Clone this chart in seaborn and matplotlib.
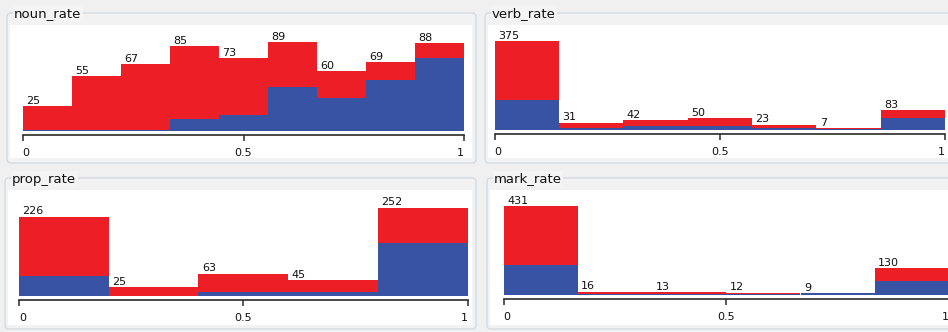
import numpy as np
import pandas as pd
import matplotlib
matplotlib.use("Agg")
import matplotlib.pyplot as plt
import seaborn as sns
from matplotlib.patches import FancyBboxPatch, Rectangle
from matplotlib.transforms import IdentityTransform

# Bin totals (the printed values) and the blue-class part of each bin
noun_total = [25, 55, 67, 85, 73, 89, 60, 69, 88]
noun_blue = [1, 1, 1, 12, 16, 44, 33, 51, 73]
verb_total = [375, 31, 42, 50, 23, 7, 83]
verb_blue = [127, 10, 15, 15, 9, 3, 51]
prop_total = [226, 25, 63, 45, 252]
prop_blue = [57, 1, 10, 10, 152]
mark_total = [431, 16, 13, 12, 9, 130]
mark_blue = [148, 4, 3, 3, 9, 66]

titles = ["noun_rate", "verb_rate", "prop_rate", "mark_rate"]
tick_values = [0, 0.5, 1]
tick_labels = ["0", "0.5", "1"]

RED = "#ed1f26"
BLUE = "#3953a4"
W, H = 948, 332

sns.set_style("white")
plt.rcParams["font.family"] = ["DejaVu Sans"]

fig = plt.figure(figsize=(W / 100, H / 100), dpi=100)
fig.patch.set_facecolor("#f0f0f0")

# pixel geometry of each panel: group box, white area, axis span and baseline
panels = [
    dict(box=(7, 13, 476, 163), white=(10, 25, 472, 158), x0=22.7, x1=464.3, base=131),
    dict(box=(485, 13, 970, 163), white=(488, 25, 970, 158), x0=494.5, x1=945, base=130),
    dict(box=(5, 178, 476, 329), white=(8, 190, 472, 325), x0=19, x1=467.5, base=296),
    dict(box=(487, 178, 970, 329), white=(490, 190, 970, 325), x0=503.5, x1=949, base=295),
]
series = [
    (noun_total, noun_blue),
    (verb_total, verb_blue),
    (prop_total, prop_blue),
    (mark_total, mark_blue),
]

ident = IdentityTransform()


def px_rect(x0, y0, x1, y1):
    return x0, H - y1, x1 - x0, y1 - y0


for title, geo, (total, blue) in zip(titles, panels, series):
    bx, by, bw, bh = px_rect(*geo["box"])
    box = FancyBboxPatch((bx, by), bw, bh, boxstyle="round,pad=0,rounding_size=4",
                         transform=ident, facecolor="#f2f2f2", edgecolor="#d3dbe1",
                         linewidth=1.0, zorder=-3)
    fig.patches.append(box)
    wx, wy, ww, wh = px_rect(*geo["white"])
    fig.patches.append(Rectangle((wx, wy), ww, wh, transform=ident,
                                 facecolor="white", edgecolor="none", zorder=-2))
    fig.text((geo["box"][0] + 7) / W, 1 - (geo["box"][1] + 1) / H, title,
             fontsize=9.5, ha="left", va="center", color="#111111",
             bbox=dict(facecolor="#f4f4f4", edgecolor="none", pad=1.0))

    n = len(total)
    edges = np.linspace(0, 1, n + 1)
    centers = (edges[:-1] + edges[1:]) / 2
    red = [t - b for t, b in zip(total, blue)]
    df = pd.DataFrame({
        "rate": np.concatenate([centers, centers]),
        "count": red + blue,
        "cls": ["A"] * n + ["B"] * n,
    })

    plot_h = 100
    ax = fig.add_axes([geo["x0"] / W, 1 - geo["base"] / H,
                       (geo["x1"] - geo["x0"]) / W, plot_h / H])
    ax.set_facecolor("none")
    sns.histplot(data=df, x="rate", weights="count", hue="cls", hue_order=["A", "B"],
                 palette={"A": RED, "B": BLUE}, bins=n, binrange=(0, 1),
                 multiple="stack", element="bars", linewidth=0, alpha=1,
                 legend=False, ax=ax)
    ax.set_xlim(0, 1)
    ax.set_ylim(0, max(total) * plot_h / 88.5)
    ax.set_xlabel("")
    ax.set_ylabel("")
    ax.set_yticks([])
    for side in ("left", "top", "right"):
        ax.spines[side].set_visible(False)
    ax.spines["bottom"].set_position(("outward", 2.6))
    ax.spines["bottom"].set_color("#2a2a2a")
    ax.spines["bottom"].set_linewidth(1.2)
    ax.set_xticks(tick_values)
    ax.set_xticklabels(tick_labels)
    ax.tick_params(axis="x", bottom=True, direction="out", length=4.3, width=1.1,
                   color="#2a2a2a", pad=5.0, labelsize=8, labelcolor="#111111")
    labels = ax.get_xticklabels()
    labels[0].set_ha("left")
    labels[-1].set_ha("right")

    for left, t in zip(edges[:-1], total):
        ax.annotate(str(t), xy=(left, t), xytext=(3.5, 2.5), textcoords="offset pixels",
                    ha="left", va="baseline", fontsize=8, color="#111111",
                    annotation_clip=False)

fig.savefig("out.png", dpi=100, facecolor=fig.get_facecolor())
